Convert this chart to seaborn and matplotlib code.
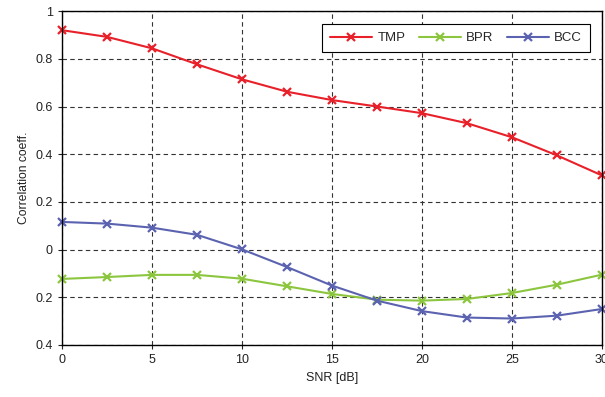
import matplotlib
matplotlib.use("Agg")
import matplotlib.pyplot as plt
import seaborn as sns
import pandas as pd

# values
snr = [0, 2.5, 5, 7.5, 10, 12.5, 15, 17.5, 20, 22.5, 25, 27.5, 30]
tmp = [0.92, 0.892, 0.844, 0.777, 0.714, 0.662, 0.627, 0.60, 0.572, 0.53, 0.471, 0.395, 0.311]
bpr = [-0.123, -0.115, -0.106, -0.106, -0.122, -0.154, -0.186, -0.210, -0.214, -0.207, -0.182, -0.147, -0.105]
bcc = [0.116, 0.109, 0.092, 0.062, 0.001, -0.073, -0.151, -0.214, -0.258, -0.285, -0.289, -0.277, -0.249]

series_names = ["TMP", "BPR", "BCC"]
series_colors = ["#e8202a", "#8cc63f", "#5b63b0"]

x_ticks = [0, 5, 10, 15, 20, 25, 30]
y_ticks = [1, 0.8, 0.6, 0.4, 0.2, 0, -0.2, -0.4]
y_tick_labels = ["1", "0.8", "0.6", "0.4", "0.2", "0", "0.2", "0.4"]

df = pd.DataFrame({
    "SNR": snr * 3,
    "value": tmp + bpr + bcc,
    "method": [n for n in series_names for _ in snr],
})

sns.set_style("white")
plt.rcParams["font.family"] = ["Liberation Sans", "DejaVu Sans"]

fig = plt.figure(figsize=(6.05, 3.97), dpi=100)
ax = fig.add_axes([0.1025, 0.131, 0.8925, 0.841])

sns.lineplot(data=df, x="SNR", y="value", hue="method", style="method",
             hue_order=series_names, style_order=series_names,
             palette=series_colors, markers=["x"] * 3, dashes=False,
             markersize=6, markeredgewidth=1.6, linewidth=1.5,
             clip_on=False, ax=ax)

# seaborn gives markers a white edge; 'x' needs the line colour instead
for line in ax.lines:
    line.set_markeredgecolor(line.get_color())

ax.set_xlim(0, 30)
ax.set_ylim(-0.4, 1)
ax.set_xticks(x_ticks)
ax.set_yticks(y_ticks)
ax.set_yticklabels(y_tick_labels)
ax.tick_params(labelsize=9, colors="#222222", length=3, width=0.8, direction="out")
ax.tick_params(axis="both", left=True, bottom=True)
ax.grid(True, linestyle=(0, (4, 3)), color="#333333", linewidth=0.8)

for s in ax.spines.values():
    s.set_color("black")
    s.set_linewidth(1.0)

ax.set_xlabel("SNR [dB]", fontsize=9, color="#222222")
ax.set_ylabel("Correlation coeff.", fontsize=8.7, color="#222222")

leg = ax.legend(loc="upper right", ncol=3, fontsize=9.5, frameon=True,
                fancybox=False, edgecolor="black", handlelength=3.2,
                columnspacing=1.0, handletextpad=0.4, borderpad=0.6,
                borderaxespad=0, bbox_to_anchor=(0.978, 0.961))
for h in leg.legend_handles:
    h.set_markeredgecolor(h.get_color())
leg.get_frame().set_linewidth(0.8)
leg.get_frame().set_alpha(1)

fig.savefig("out.png", dpi=100)
